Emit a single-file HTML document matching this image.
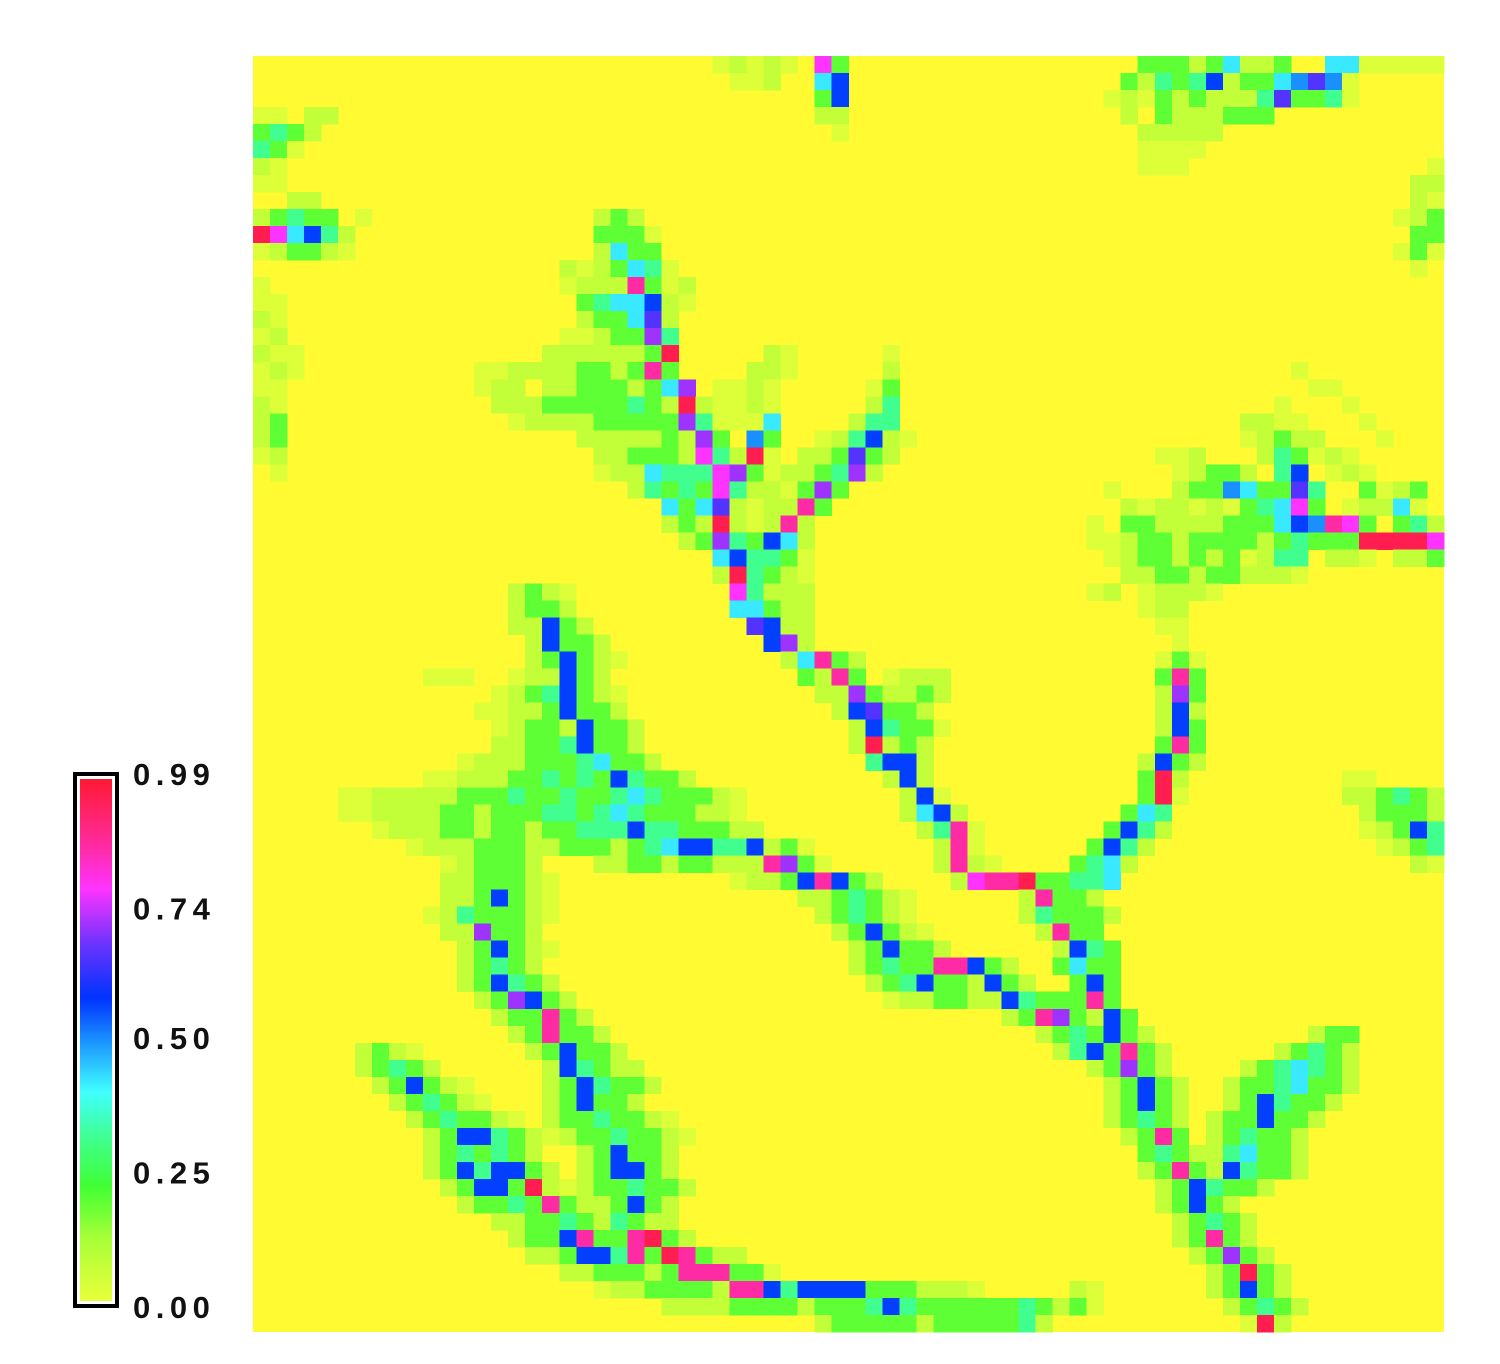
<!DOCTYPE html>
<html><head><meta charset="utf-8">
<style>
html,body{margin:0;padding:0;background:#fff;}
#wrap{position:relative;width:1500px;height:1364px;overflow:hidden;}
</style></head>
<body>
<div id="wrap">
<svg id="chart" width="1500" height="1364" xmlns="http://www.w3.org/2000/svg">
  <defs>
    <linearGradient id="cbgrad" x1="0" y1="1" x2="0" y2="0">
      <stop offset="0" stop-color="#e8ff3a"/>
      <stop offset="0.12" stop-color="#a8ff38"/>
      <stop offset="0.22" stop-color="#40ff33"/>
      <stop offset="0.32" stop-color="#40ff99"/>
      <stop offset="0.40" stop-color="#40ffff"/>
      <stop offset="0.50" stop-color="#1a90ff"/>
      <stop offset="0.58" stop-color="#0033ff"/>
      <stop offset="0.68" stop-color="#6633ff"/>
      <stop offset="0.79" stop-color="#ff33ff"/>
      <stop offset="0.88" stop-color="#ff2a99"/>
      <stop offset="1" stop-color="#ff1a33"/>
    </linearGradient>
  </defs>
  <rect x="253" y="56" width="1191" height="1276" fill="#fffa32"/>
  <g id="cells" shape-rendering="crispEdges"></g>
  <g>
    <rect x="75" y="774" width="42" height="532" fill="#fff" stroke="#000" stroke-width="4"/>
    <rect x="80" y="779" width="32" height="522" fill="url(#cbgrad)"/>
  </g>
  <g id="cbticks" font-family="Liberation Sans, sans-serif" font-weight="bold" font-size="31" fill="#111"></g>
</svg>
</div>
<script>
// grid dimensions
const nCols = 70;
const nRows = 75;
// value code legend
const codeKeys = ["f","a","g","q","c","b","B","i","v","p","m","r"];
const codeValues = [0.02,0.07,0.19,0.31,0.42,0.50,0.57,0.66,0.72,0.79,0.87,0.96];
// colorbar tick labels and values
const tickLabels = ["0.99","0.74","0.50","0.25","0.00"];
const tickValues = [0.99,0.74,0.50,0.25,0.00];
// run data: [row, startCol, codes]
const runs = [
[0,27,"fafaf"],[0,33,"pg"],[0,52,"gggagcaag..ccfffff"],
[1,28,"ffa"],[1,33,"cB"],[1,51,"gaqgqBaggcbibf"],
[2,33,"gB"],[2,50,"fafgagaaaqiggqf"],
[3,0,"ff.aa"],[3,33,"aa"],[3,51,"a.gaaaggg"],
[4,0,"gqga"],[4,34,"f"],[4,52,"aaaaa"],
[5,0,"qgf"],[5,52,"ffff"],
[6,0,"af"],[6,52,"fff"],[6,69,"f"],
[7,0,"ff"],[7,68,"aa"],
[8,2,"aa"],[8,68,"af"],
[9,0,"agqgg.f"],[9,67,"fag"],[9,20,"aga"],
[10,0,"rpcBqa"],[10,68,"gg"],[10,20,"gggf"],
[11,0,"faggaf"],[11,67,"fgf"],[11,20,"acgg"],
[12,68,"f"],[12,18,"afagcqf"],
[13,0,"f"],[13,18,"faaamgfa"],
[14,0,"ff"],[14,19,"gqccBaf"],
[15,0,"af"],[15,19,"aggcia"],
[16,0,"fa"],[16,18,"ffaggvq"],
[17,0,"aff"],[17,17,"aaaaaagr"],[17,30,"af"],[17,37,"f"],
[18,0,"faf"],[18,13,"ffaa"],[18,17,"aaggagmg"],[18,29,"aaf"],[18,37,"a"],[18,61,"f"],
[19,0,"ff"],[19,13,"faa"],[19,17,"aagggagcv"],[19,27,"ffaf"],[19,36,"fg"],[19,62,"ff"],
[20,0,"af"],[20,14,"aaa"],[20,17,"gggggqgaraffaf"],[20,36,"aq"],[20,60,"f"],[20,64,"f"],
[21,0,"ag"],[21,15,"faa"],[21,18,"aagggggvqfffc"],[21,35,"aqq"],[21,58,"aaff"],[21,65,"f"],
[22,0,"ag"],[22,19,"aaaaagavg.bg"],[22,33,"faqBaf"],[22,58,"fagaa"],[22,66,"f"],
[23,0,"fa"],[23,20,"aagggapqarf"],[23,32,"aagiga"],[23,53,"ffa"],[23,59,"aqgfaf"],
[24,1,"f"],[24,20,"faacqqqpvgfaagqva"],[24,54,"fagga.qB.faf"],
[25,22,"aqgqgpqaafgvg"],[25,50,"f...aggbcggiq..gfag"],
[26,24,"cgciafaamg"],[26,51,"afaafafgqcpg.faacf"],
[27,24,"agarafama"],[27,49,"f.ggaaaagggcBbmpg.gqa"],
[28,25,"agvqgBca"],[28,49,"ffaggaggggagqgggrrrrp"],
[29,27,"cBqqgf"],[29,50,"faggagagfaqq.aaf.aag"],
[30,27,"arqgaf"],[30,51,"aaggaggaaaf"],
[31,15,"agaf"],[31,28,"pqaaa"],[31,49,"fa"],[31,52,"faaaf"],
[32,15,"agga"],[32,28,"ccgaa"],[32,52,"faa"],
[33,15,"aaBga"],[33,29,"iBaa"],[33,53,"ff"],
[34,16,"aBgga"],[34,30,"Bva"],[34,54,"f"],
[35,16,"agBgaf"],[35,31,"acmga"],[35,53,"fgf"],
[36,10,"fff"],[36,15,"faaBga"],[36,32,"gamg"],[36,37,"faaa"],[36,53,"gmg"],
[37,14,"fagqBgaf"],[37,33,"aavg"],[37,37,"aaga"],[37,53,"avg"],
[38,13,"ffaagBgga"],[38,34,"aBigga"],[38,53,"aBa"],
[39,14,"faggaBgga"],[39,35,"aBqggf"],[39,53,"aBg"],
[40,14,"aaggqBgga"],[40,35,"araga"],[40,53,"gmg"],
[41,12,"faaagggqcgga"],[41,36,"qBBa"],[41,52,"aBga"],
[42,10,"ffaaaggqgqgBqgga"],[42,37,"aBa"],[42,52,"gra"],[42,64,"ff"],
[43,5,"ffaaaaagggqggqggqcqgggaf"],[43,38,"aBf"],[43,52,"grf"],[43,64,"aagqga"],
[44,5,"ffaaaaggagggqqgqcqgggaaf"],[44,38,"acBa"],[44,51,"gcq"],[44,65,"aggga"],
[45,7,"faaaggaggaggqqqBqqgggaa"],[45,39,"aqmf"],[45,50,"gBqa"],[45,65,"fagBq"],
[46,9,"faaagggaagggagqcBBqqBagf"],[46,40,"amf"],[46,49,"gBqa"],[46,66,"fagq"],
[47,11,"faggga"],[47,20,"aaggaggaaamvgf"],[47,40,"amaf"],[47,48,"gqca"],[47,68,"af"],
[48,11,"aagggaf"],[48,28,"faagBmBga"],[48,41,"apmmr"],[48,46,"ggqqc"],
[49,11,"aagBgaf"],[49,32,"aagqgaf"],[49,45,"amgga"],
[50,10,"faqgggaf"],[50,33,"agqgaf"],[50,45,"aqggga"],
[51,11,"aavgga"],[51,34,"agBgaf"],[51,46,"amgg"],
[52,12,"agBgaf"],[52,35,"agBgga"],[52,47,"aBqg"],
[53,12,"agqga"],[53,35,"agqggmmBga"],[53,47,"gcgg"],
[54,12,"agBqga"],[54,36,"agqBggaBga"],[54,48,"gBg"],
[55,13,"agvBga"],[55,37,"faaggaaBqgg"],[55,48,"gmg"],
[56,14,"aggmga"],[56,44,"agmvgaBg"],
[57,15,"agmgga"],[57,46,"agqgBga"],[57,62,"agg"],
[58,6,"agaf"],[58,16,"agBgga"],[58,47,"aqBgmga"],[58,60,"agqga"],
[59,6,"agqga"],[59,17,"aBqgaa"],[59,49,"agvga"],[59,58,"agqcqga"],
[60,7,"agBgaf"],[60,17,"agBqgga"],[60,50,"agBga"],[60,57,"aggqcgga"],
[61,8,"agqgaf"],[61,17,"agBgga"],[61,50,"agBga"],[61,57,"agBqgga"],
[62,9,"agqggaf"],[62,17,"aggqggaf"],[62,50,"agqga"],[62,56,"aggBgga"],
[63,10,"agBBqgaf"],[63,18,"aggqggaf"],[63,51,"agmg"],[63,56,"agqgga"],
[64,10,"agqgqga"],[64,19,"agBgga"],[64,52,"gqga"],[64,56,"aqcgga"],
[65,10,"agBqBBga"],[65,19,"agBBga"],[65,52,"agmga"],[65,56,"aBqgga"],
[66,11,"agBBgraf"],[66,19,"aggqgga"],[66,53,"agBqgga"],
[67,12,"aggqgmgaf"],[67,20,"agBga"],[67,53,"agBga"],
[68,14,"aaggqgaqgaa"],[68,54,"agqga"],
[69,15,"aggBmggmrga"],[69,54,"agmga"],
[70,16,"aagBBqmgrmgaa"],[70,55,"agvga"],
[71,18,"aagggagmmmggf"],[71,56,"agrga"],
[72,20,"faaggggammBqBBBBgggaaaf"],[72,48,"af"],[72,56,"agBga"],
[73,24,"aaaaggggagggqBqggggggqga"],[73,48,"gf"],[73,57,"agqga"],
[74,33,"agggggagggggqa"],[74,58,"fra"]
];

const X0 = 253, Y0 = 56, W = 1191, H = 1276;
function xScale(c){ return X0 + c * W / nCols; }
function yScale(r){ return Y0 + r * H / nRows; }
const stops = [[0,[232,255,58]],[0.12,[168,255,56]],[0.22,[64,255,51]],[0.32,[64,255,153]],[0.40,[64,255,255]],[0.50,[26,144,255]],[0.58,[0,51,255]],[0.68,[102,51,255]],[0.79,[255,51,255]],[0.88,[255,42,153]],[0.99,[255,26,51]]];
function colorFor(v){
  for(let i=1;i<stops.length;i++){
    if(v<=stops[i][0]){
      const a=stops[i-1], b=stops[i];
      const t=(v-a[0])/(b[0]-a[0]);
      const c=a[1].map((x,k)=>Math.round(x+(b[1][k]-x)*t));
      return "rgb("+c.join(",")+")";
    }
  }
  return "rgb(255,26,51)";
}
const NS="http://www.w3.org/2000/svg";
const g=document.getElementById("cells");
const cw=W/nCols, ch=H/nRows;
runs.forEach(run=>{
  const row=run[0], c0=run[1], s=run[2];
  for(let k=0;k<s.length;k++){
    const idx=codeKeys.indexOf(s[k]);
    if(idx<0) continue;
    const col=c0+k;
    if(col>=nCols) continue;
    const r=document.createElementNS(NS,"rect");
    r.setAttribute("x",xScale(col).toFixed(2));
    r.setAttribute("y",yScale(row).toFixed(2));
    r.setAttribute("width",(cw+0.4).toFixed(2));
    r.setAttribute("height",(ch+0.4).toFixed(2));
    r.setAttribute("fill",colorFor(codeValues[idx]));
    
    
    g.appendChild(r);
  }
});
// colorbar ticks
const tg=document.getElementById("cbticks");
const cbTop=774, cbBot=1307;
tickValues.forEach((v,i)=>{
  const y=cbBot-(v/0.99)*(cbBot-cbTop);
  const t=document.createElementNS(NS,"text");
  t.setAttribute("x","133");
  t.setAttribute("y",(y+11).toFixed(1));
  t.setAttribute("letter-spacing","5.5");
  t.textContent=tickLabels[i];
  
  
  tg.appendChild(t);
});
</script>
</body></html>
